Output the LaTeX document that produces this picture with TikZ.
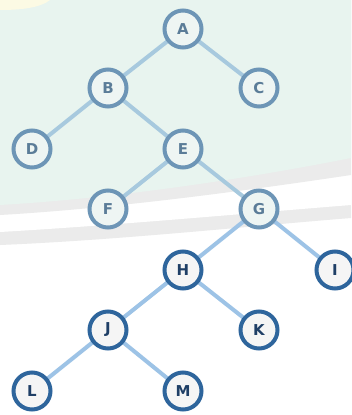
\documentclass[tikz,border=0pt]{standalone}
\usepackage{fontspec}
\setmainfont{DejaVu Sans}
\pgfdeclarelayer{back}
\pgfdeclarelayer{edges}
\pgfsetlayers{back,edges,main}
\definecolor{bggreen}{HTML}{E8F4EF}
\definecolor{bgband}{HTML}{EBEBEB}
\definecolor{bgyellow}{HTML}{FCFAE4}
\definecolor{fadeline}{HTML}{6D95B6}
\definecolor{fadetext}{HTML}{5B7C98}
\definecolor{fadefill}{HTML}{EEF5F3}
\definecolor{fadeedge}{HTML}{A7C9DE}
\definecolor{darkline}{HTML}{2E659C}
\definecolor{darktext}{HTML}{1F3F66}
\definecolor{darkfill}{HTML}{F5F5F5}
\definecolor{darkedge}{HTML}{9DC3E6}
\tikzset{
  treenode/.style={circle, minimum size=37pt, inner sep=0pt, line width=4pt,
    font=\fontsize{15}{15}\selectfont\bfseries},
  fadenode/.style={treenode, draw=fadeline, fill=fadefill, text=fadetext},
  darknode/.style={treenode, draw=darkline, fill=darkfill, text=darktext},
  fadelink/.style={draw=fadeedge, line width=4pt},
  darklink/.style={draw=darkedge, line width=4pt}
}
\begin{document}
\begin{tikzpicture}[x=1pt,y=-1pt]
\useasboundingbox (0,0) rectangle (351,415);
\begin{pgfonlayer}{back}
  \fill[white] (0,0) rectangle (351,415);
  % watermark bands
  \fill[bgband] (0,0) -- (351,0) -- (351,218) .. controls (250,226) and (120,240) .. (0,245) -- cycle;
  \fill[white] (0,0) -- (351,0) -- (351,205) .. controls (250,213) and (120,225) .. (0,232) -- cycle;
  \fill[bgband] (0,0) -- (351,0) -- (351,175) .. controls (250,190) and (120,208) .. (0,215) -- cycle;
  \fill[bggreen] (0,0) -- (351,0) -- (351,158) .. controls (250,178) and (120,198) .. (0,205) -- cycle;
  \fill[bgyellow] (0,0) -- (50,0) .. controls (40,8) and (20,10) .. (0,10) -- cycle;
\end{pgfonlayer}

\node[fadenode] (A) at (183,29) {A};
\node[fadenode] (B) at (108,88) {B};
\node[fadenode] (C) at (259,88) {C};
\node[fadenode] (D) at (32,149) {D};
\node[fadenode] (E) at (183,149) {E};
\node[fadenode] (F) at (108,209) {F};
\node[fadenode] (G) at (259,209) {G};
\node[darknode] (H) at (183,270) {H};
\node[darknode] (I) at (335,270) {I};
\node[darknode] (J) at (108,330) {J};
\node[darknode] (K) at (259,330) {K};
\node[darknode] (L) at (32,391) {L};
\node[darknode] (M) at (183,391) {M};

\begin{pgfonlayer}{edges}
  \path[fadelink] (A.center) -- (B.center);
  \path[fadelink] (A.center) -- (C.center);
  \path[fadelink] (B.center) -- (D.center);
  \path[fadelink] (B.center) -- (E.center);
  \path[fadelink] (E.center) -- (F.center);
  \path[fadelink] (E.center) -- (G.center);
  \path[darklink] (G.center) -- (H.center);
  \path[darklink] (G.center) -- (I.center);
  \path[darklink] (H.center) -- (J.center);
  \path[darklink] (H.center) -- (K.center);
  \path[darklink] (J.center) -- (L.center);
  \path[darklink] (J.center) -- (M.center);
\end{pgfonlayer}
\end{tikzpicture}
\end{document}
